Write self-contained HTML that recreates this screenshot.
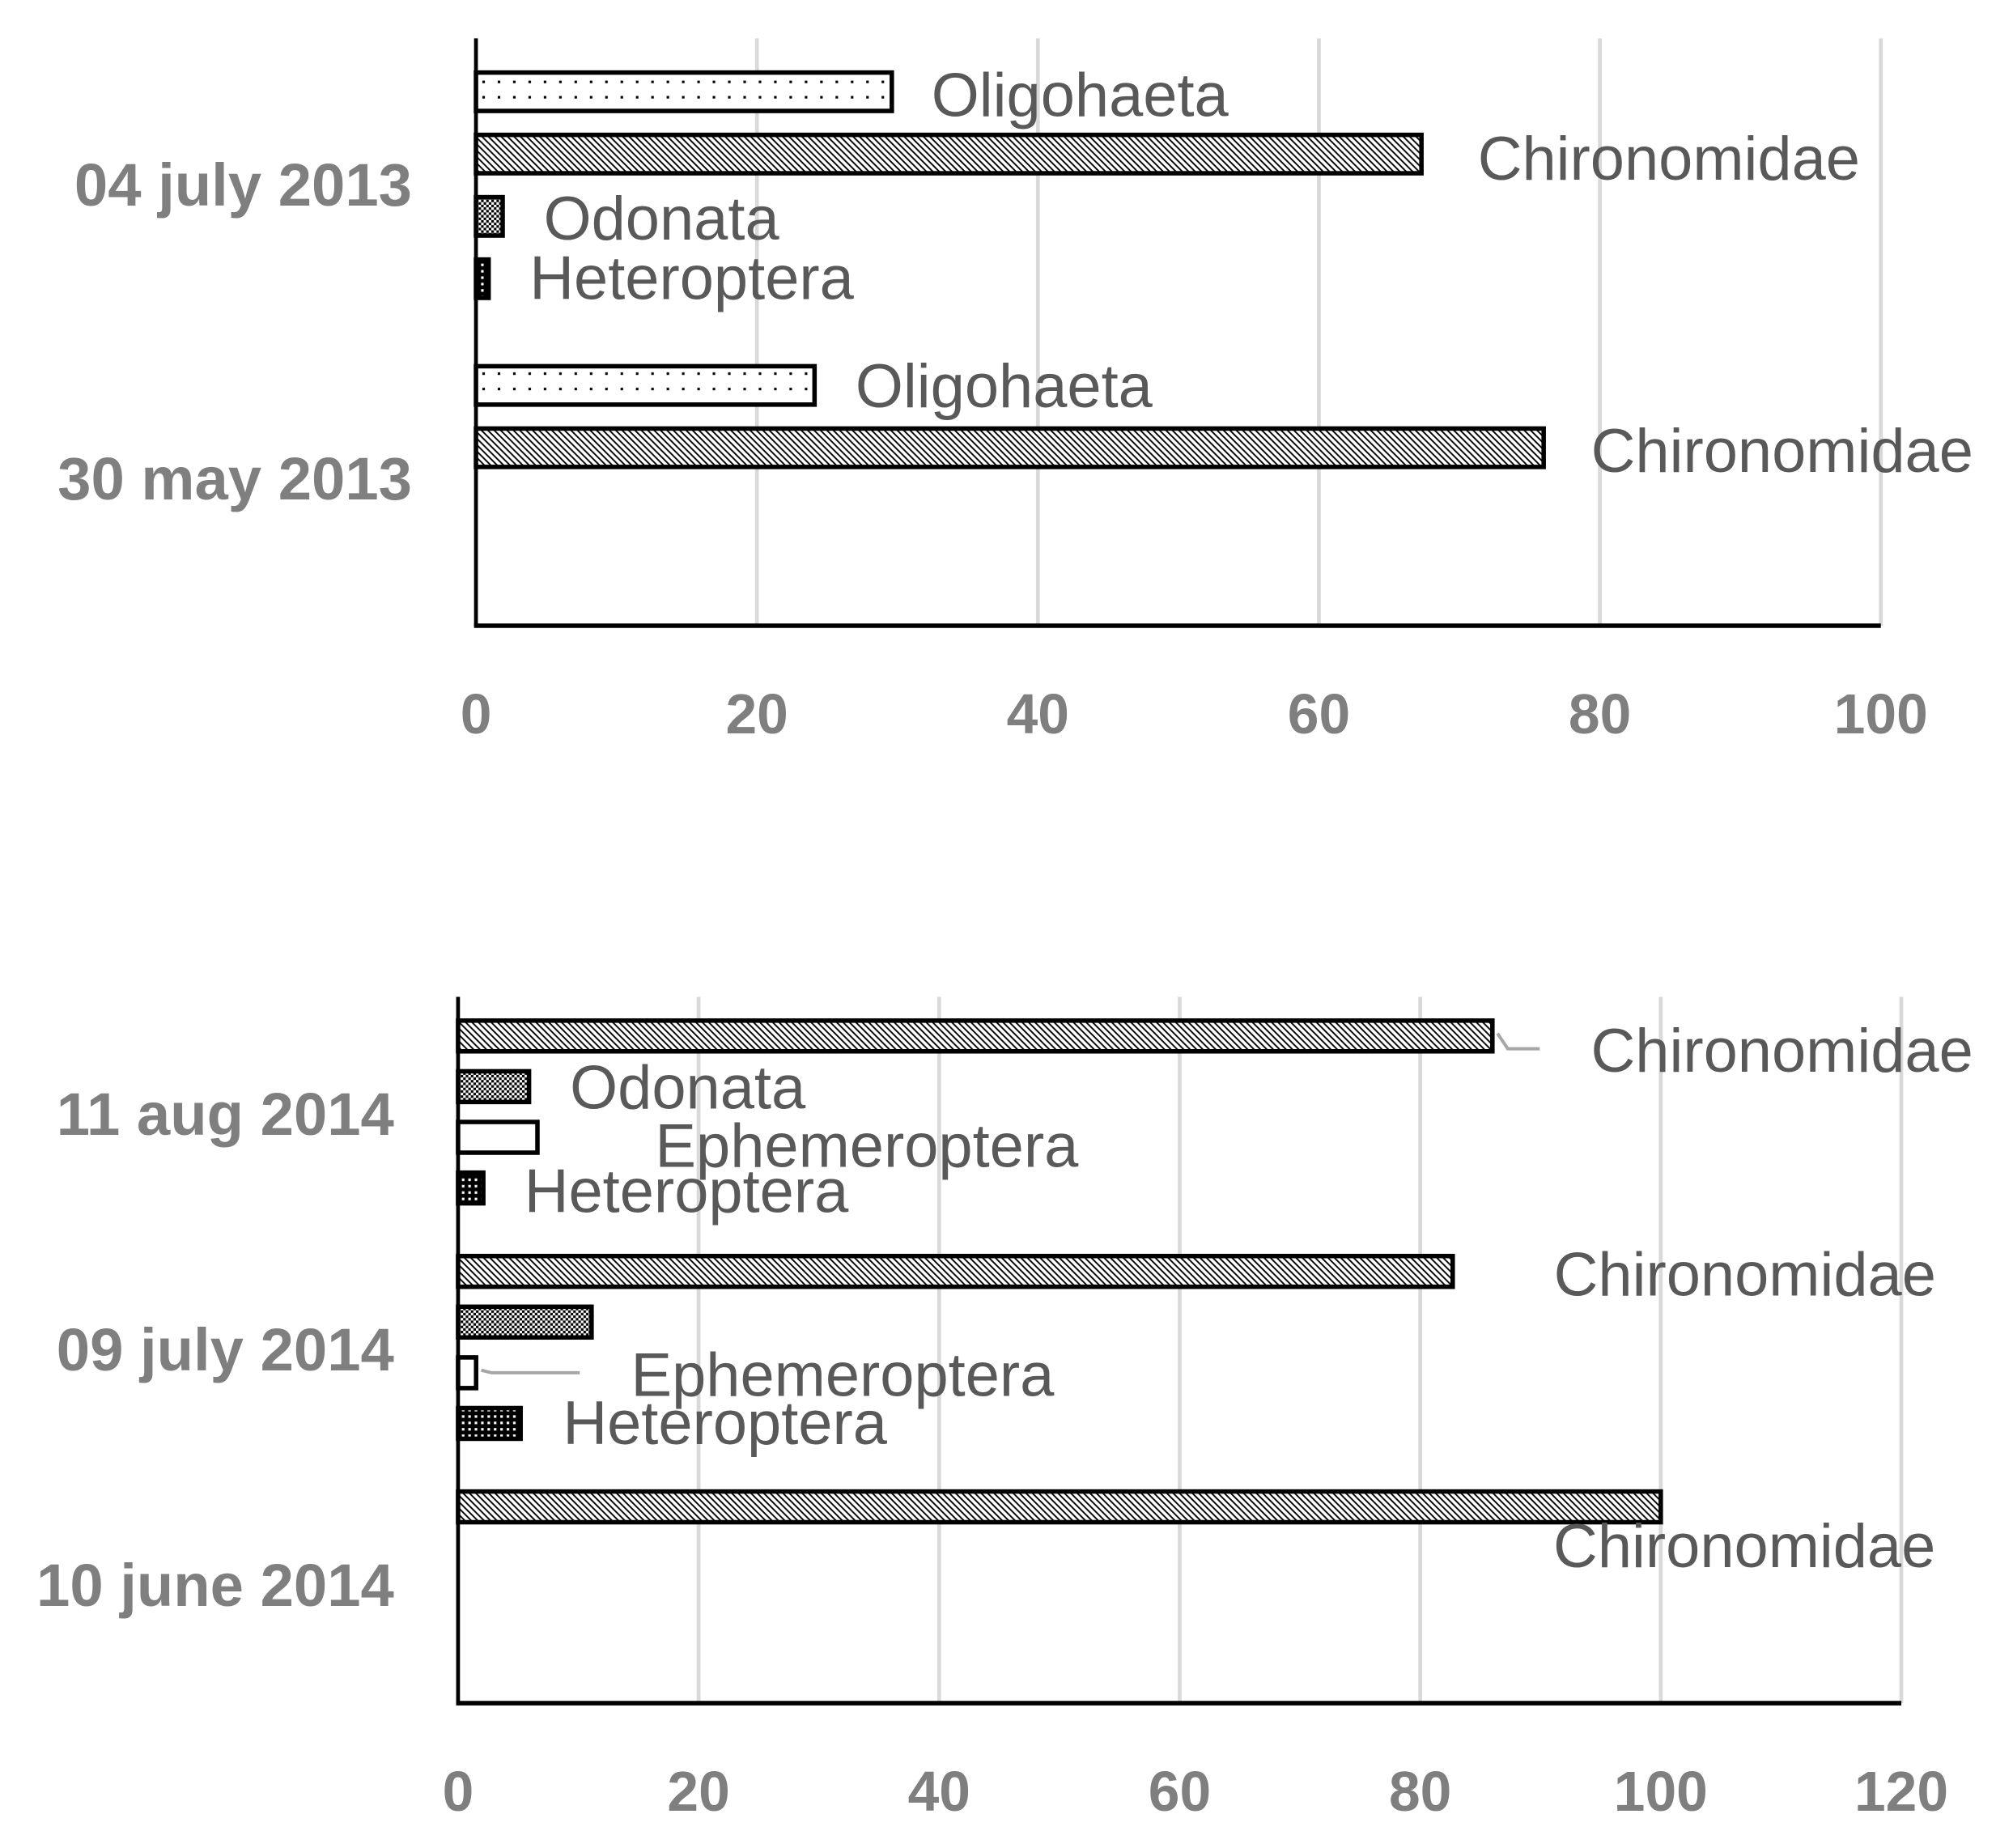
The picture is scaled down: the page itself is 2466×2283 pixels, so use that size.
<!DOCTYPE html>
<html><head><meta charset="utf-8"><style>
html,body{margin:0;padding:0;background:#fff}
svg{display:block}
text{font-family:"Liberation Sans",sans-serif}
</style></head><body>
<svg id="chart" width="2466" height="2283" viewBox="0 0 1560 1444.2" preserveAspectRatio="none" xmlns="http://www.w3.org/2000/svg">
<defs>
<pattern id="p-oligo" width="12" height="12" patternUnits="userSpaceOnUse"><rect width="12" height="12" fill="#fff"/><rect x="5" y="3" width="2" height="2" fill="#000"/></pattern>
<pattern id="p-chiro" width="5" height="5" patternUnits="userSpaceOnUse"><rect width="5" height="5" fill="#fff"/><path d="M0,0 L5,5 M-1,4 L1,6 M4,-1 L6,1" stroke="#000" stroke-width="1.2"/></pattern>
<pattern id="p-odo" width="4" height="4" patternUnits="userSpaceOnUse"><rect width="4" height="4" fill="#fff"/><rect width="2" height="2" fill="#000"/><rect x="2" y="2" width="2" height="2" fill="#000"/></pattern>
<pattern id="p-het" width="5" height="5" patternUnits="userSpaceOnUse"><rect width="5" height="5" fill="#000"/><rect x="1" y="1" width="2" height="2" fill="#fff"/></pattern>
<pattern id="p-eph" width="8" height="30" patternUnits="userSpaceOnUse"><rect width="8" height="30" fill="#fff"/><rect x="3" y="4" width="2" height="3" fill="#000"/></pattern>
</defs>
<g id="g1"></g>
<g id="g2"></g>
</svg>
<script>
const NS='http://www.w3.org/2000/svg';
// ---- Chart 1 (2013) data ----
const cats1=['30 may 2013','04 july 2013'];
const series1=['Heteroptera','Odonata','Chironomidae','Oligohaeta'];
const heter1=[0,0.9];
const odon1=[0,1.9];
const chiro1=[76,67.3];
const oligo1=[24.1,29.6];
const ticks1=[0,20,40,60,80,100];
// ---- Chart 2 (2014) data ----
const cats2=['10 june 2014','09 july 2014','11 aug 2014'];
const series2=['Heteroptera','Ephemeroptera','Odonata','Chironomidae'];
const heter2=[0,5.2,2.1];
const ephem2=[0,1.5,6.6];
const odon2=[0,11.1,5.9];
const chiro2=[100,82.7,86];
const ticks2=[0,20,40,60,80,100,120];

function el(tag,attrs,parent){const e=document.createElementNS(NS,tag);for(const k in attrs)e.setAttribute(k,attrs[k]);parent.appendChild(e);return e;}

function draw(g,cfg){
  const xs=v=>cfg.x0+(v-cfg.min)/(cfg.max-cfg.min)*(cfg.x1-cfg.x0);
  const band=(cfg.yb-cfg.yt)/cfg.cats.length;
  cfg.ticks.forEach((t,i)=>{
    if(t!==cfg.min){const l=el('line',{x1:xs(t),x2:xs(t),y1:cfg.yt,y2:cfg.yb,stroke:'#d9d9d9','stroke-width':3},g);
    
    }
    const tx=el('text',{x:xs(t),y:cfg.yb+84,'text-anchor':'middle','font-size':44,'font-weight':'bold',fill:'#7f7f7f'},g);
    tx.textContent=t;
    
    
  });
  cfg.cats.forEach((c,ci)=>{
    const cy=cfg.yb-band*(ci+0.5);
    const ct=el('text',{x:cfg.catX,y:cy+cfg.catDy,'text-anchor':'end','font-size':47,'font-weight':'bold',fill:'#7f7f7f'},g);
    ct.textContent=c;
    
    
    cfg.series.forEach((s,si)=>{
      const v=cfg.vals[si][ci];
      if(v<=0)return;
      const bc=cy-cfg.step*(si-(cfg.series.length-1)/2)+cfg.shift;
      const r=el('rect',{x:cfg.x0,y:bc-cfg.bh/2,width:xs(v)-cfg.x0,height:cfg.bh,fill:'url(#'+cfg.pats[si]+')',stroke:'#000','stroke-width':3.5},g);
      
      
      const off=cfg.lab[si][ci];
      if(off===0)return;
      const o=off||[32,0];
      const lt=el('text',{x:xs(v)+o[0],y:bc+o[1]+16,'font-size':48,fill:'#595959'},g);
      lt.textContent=s;
      
      
      if(o[2]){const ll=el('polyline',{points:(xs(v)+4)+','+(bc-2)+' '+(xs(v)+12)+','+(bc+o[1]-2)+' '+(xs(v)+o[0]-40)+','+(bc+o[1]-2),fill:'none',stroke:'#a6a6a6','stroke-width':2.5},g);
      
      }
    });
  });
  const ax=el('line',{x1:cfg.x0,x2:cfg.x0,y1:cfg.yt,y2:cfg.yb,stroke:'#000','stroke-width':3},g);
  
  
  const bx=el('line',{x1:cfg.x0-1.5,x2:cfg.x1,y1:cfg.yb,y2:cfg.yb,stroke:'#000','stroke-width':3.5},g);
  
  
}
draw(document.getElementById('g1'),{x0:372,x1:1470,min:0,max:100,yt:30,yb:489,cats:cats1,series:series1,
  vals:[heter1,odon1,chiro1,oligo1],pats:['p-het','p-odo','p-chiro','p-oligo'],ticks:ticks1,step:48.7,bh:30,shift:0,catX:322,catDy:16,
  lab:[[null,[32,0]],[null,[32,2]],[[37,3],[44,4]],[[32,1],[31,3]]]});
draw(document.getElementById('g2'),{x0:358,x1:1486,min:0,max:120,yt:779,yb:1331,cats:cats2,series:series2,
  vals:[heter2,ephem2,odon2,chiro2],pats:['p-het','p-eph','p-odo','p-chiro'],ticks:ticks2,step:39.6,bh:24,shift:-2,catX:308,catDy:16,
  lab:[[null,[33,0],[32,3]],[null,[121,2,1],[92,7]],[null,0,[32,1]],[[-84,31],[79,3],[77,12,1]]]});
</script>
</body></html>
